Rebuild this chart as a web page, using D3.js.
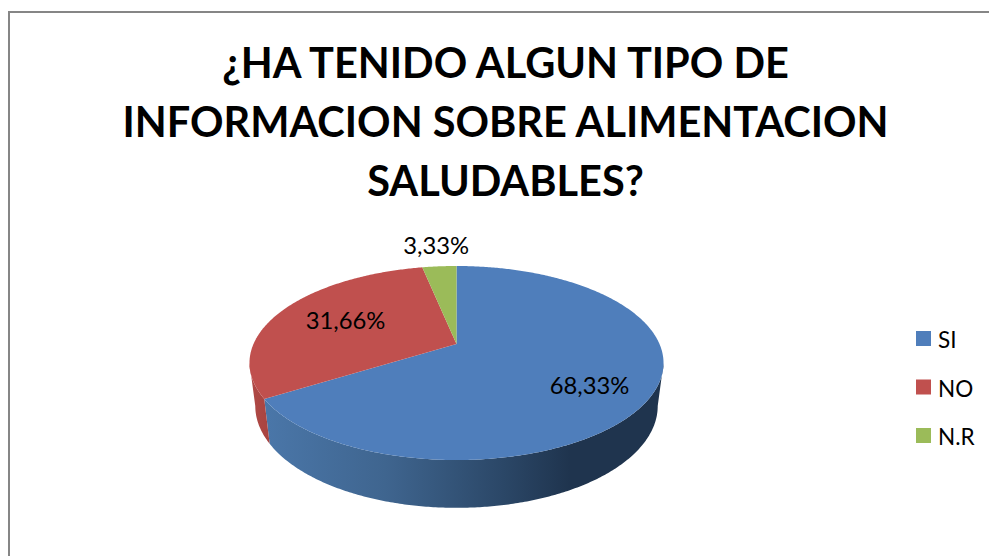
<!DOCTYPE html>
<html>
<head>
<meta charset="utf-8">
<script src="https://cdn.jsdelivr.net/npm/d3@7"></script>
<style>
html, body { margin:0; padding:0; background:#fff; }
svg { display:block; }
text { font-family:Lato, "Open Sans", sans-serif; fill:#000; }
</style>
</head>
<body>
<div id="chart"></div>
<script>
var categories = ["SI", "NO", "N.R"];
var values = [68.33, 31.66, 3.33];
var colors = ["#4f7ebb", "#c0504e", "#9bbb59"];
var titleLines = ["¿HA TENIDO ALGUN TIPO DE", "INFORMACION SOBRE ALIMENTACION", "SALUDABLES?"];

var w = 989, h = 556;
var apex = {x:456.5, y:344};

var svg = d3.select("#chart").append("svg")
	.attr("width", w)
	.attr("height", h);

// frame, only left and top show in the picture
svg.append("path")
	.attr("d", "M9,556V12H989")
	.attr("fill", "none")
	.attr("stroke", "#868686")
	.attr("stroke-width", 2);

// title
var titleY = d3.scalePoint().domain(titleLines).range([77.5, 195.5]);
svg.selectAll(".title")
	.data(titleLines)
	.enter()
	.append("text")
	.attr("class", "title")
	.attr("x", 505.5)
	.attr("y", function(d){ return titleY(d); })
	.attr("text-anchor", "middle")
	.attr("font-size", 41.5)
	.attr("font-weight", 700)
	.text(function(d){ return d; });

// perspective: the far half of the disc is squeezed, so the center sits above the ellipse middle
var k = 0.196, sx = 203, sy = 93.3;
function project(angle, r) {
	var x = Math.sin(angle) * r,
		y = -Math.cos(angle) * r;
	return [apex.x + sx * x / (1 - k * y), apex.y + sy * y / (1 - k * y)];
}
// lower rim of the side wall
function projectLow(angle) {
	var p = project(angle, 1);
	return [apex.x + (p[0] - apex.x) * 0.972, apex.y + (p[1] - apex.y) * 1.05 + 42];
}

var arcs = d3.pie().sort(null)(values);
var line = d3.line();
var defs = svg.append("defs");

function sample(a0, a1) {
	var n = Math.max(2, Math.ceil(Math.abs(a1 - a0) / 0.01));
	return d3.range(n + 1).map(function(i){ return a0 + (a1 - a0) * i / n; });
}

// side wall shading runs left to right
function gradient(id, x0, x1, stops) {
	var g = defs.append("linearGradient")
		.attr("id", id)
		.attr("gradientUnits", "userSpaceOnUse")
		.attr("x1", x0).attr("x2", x1)
		.attr("y1", 0).attr("y2", 0);
	stops.forEach(function(s){
		g.append("stop").attr("offset", s[0]).attr("stop-color", s[1]);
	});
}
gradient("sideBlue", 268, 660, [[0, "#4a76a8"], [0.3, "#3f658f"], [0.6, "#2b4767"], [0.77, "#1f344e"], [1, "#1f344e"]]);
gradient("sideRed", 249, 271, [[0, "#b04a47"], [1, "#a8433f"]]);

// side walls: blue from the right edge of the disc to the slice boundary, then red to the left edge
var rightEdge = Math.acos(-k), leftEdge = 2 * Math.PI - rightEdge;
var walls = [
	{a0:rightEdge, a1:arcs[0].endAngle, fill:"url(#sideBlue)"},
	{a0:arcs[1].startAngle, a1:leftEdge, fill:"url(#sideRed)"}
];
svg.selectAll(".wall")
	.data(walls)
	.enter()
	.append("path")
	.attr("class", "wall")
	.attr("fill", function(d){ return d.fill; })
	.attr("d", function(d){
		var angles = sample(d.a0, d.a1);
		return line(angles.map(function(a){ return project(a, 1); })
			.concat(angles.reverse().map(projectLow))) + "Z";
	});

// top of the disc
var color = d3.scaleOrdinal().domain(categories).range(colors);
svg.selectAll(".slice")
	.data(arcs)
	.enter()
	.append("path")
	.attr("class", "slice")
	.attr("fill", function(d, i){ return color(categories[i]); })
	.attr("d", function(d){
		return line([[apex.x, apex.y]].concat(sample(d.startAngle, d.endAngle).map(function(a){
			return project(a, 1);
		}))) + "Z";
	});

// value labels
var labelRadius = [0.7, 0.6, 1.3];
var labelNudge = [[0, 7], [-4, -3], [1, -3]];
svg.selectAll(".value")
	.data(arcs)
	.enter()
	.append("text")
	.attr("class", "value")
	.attr("text-anchor", "middle")
	.attr("dominant-baseline", "central")
	.attr("font-size", 23.8)
	.attr("transform", function(d, i){
		var p = project((d.startAngle + d.endAngle) / 2, labelRadius[i]);
		return "translate(" + (p[0] + labelNudge[i][0]) + "," + (p[1] + labelNudge[i][1]) + ")";
	})
	.text(function(d){ return d.value.toFixed(2).replace(".", ",") + "%"; });

// legend
var legendY = d3.scalePoint().domain(categories).range([338.5, 435.5]);
var legend = svg.selectAll(".legend")
	.data(categories)
	.enter()
	.append("g")
	.attr("class", "legend")
	.attr("transform", function(d){ return "translate(916," + legendY(d) + ")"; });
legend.append("rect")
	.attr("y", -7.5)
	.attr("width", 15)
	.attr("height", 15)
	.attr("fill", function(d){ return color(d); });
legend.append("text")
	.attr("x", 22)
	.attr("y", 1)
	.attr("dominant-baseline", "central")
	.attr("font-size", 22.5)
	.text(function(d){ return d; });
</script>
</body>
</html>
